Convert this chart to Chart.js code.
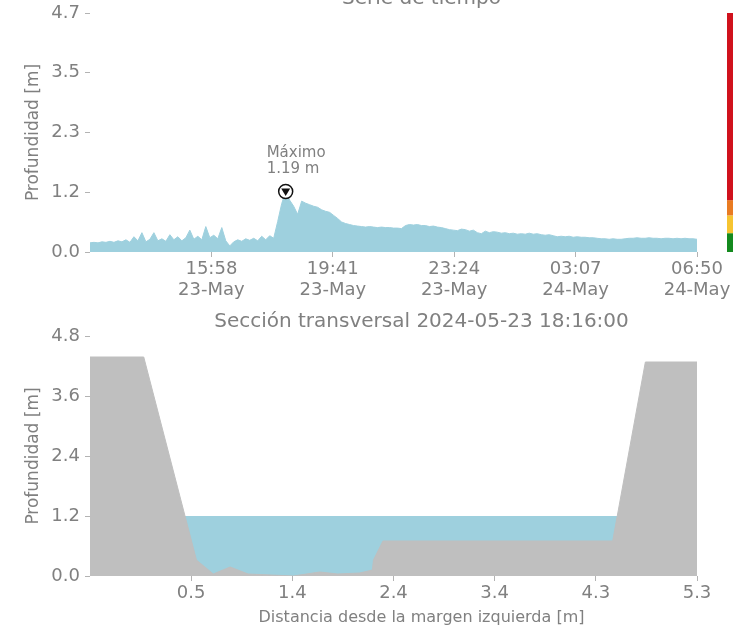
<!DOCTYPE html>
<html>
<head>
<meta charset="utf-8">
<title>Serie de tiempo / Sección transversal</title>
<script src="https://cdn.jsdelivr.net/npm/chart.js@4.4.1/dist/chart.umd.min.js"></script>
<style>
    html, body { margin: 0; padding: 0; background: #ffffff; overflow: hidden; }
    body { width: 733px; height: 628px; position: relative; }
    .panel { position: absolute; left: 0; width: 733px; }
    #top-panel { top: -30px; height: 336px; }
    #bottom-panel { top: 306px; height: 322px; }
</style>
</head>
<body>
<div class="panel" id="top-panel"><canvas id="seriesChart"></canvas></div>
<div class="panel" id="bottom-panel"><canvas id="sectionChart"></canvas></div>
<script>
// ============================================================================
// DATA: time series (depth in m, regular samples 12:15 23-May -> 06:50 24-May)
// ============================================================================
const seriesSpanMinutes = 1115;
const depthSeries = [
    0.18, 0.19, 0.18, 0.20, 0.19, 0.21, 0.19, 0.22, 0.20, 0.24,
    0.19, 0.30, 0.22, 0.38, 0.20, 0.25, 0.38, 0.22, 0.26, 0.21,
    0.34, 0.24, 0.30, 0.22, 0.28, 0.43, 0.25, 0.31, 0.24, 0.50,
    0.28, 0.33, 0.26, 0.48, 0.22, 0.12, 0.20, 0.24, 0.21, 0.26,
    0.23, 0.27, 0.22, 0.31, 0.24, 0.32, 0.27, 0.60, 0.95, 1.19,
    1.02, 0.90, 0.74, 1.00, 0.96, 0.93, 0.90, 0.88, 0.83, 0.80,
    0.78, 0.72, 0.66, 0.59, 0.56, 0.54, 0.52, 0.51, 0.50, 0.49,
    0.50, 0.49, 0.48, 0.49, 0.48, 0.48, 0.47, 0.47, 0.46, 0.52,
    0.54, 0.53, 0.54, 0.52, 0.52, 0.50, 0.51, 0.49, 0.48, 0.46,
    0.44, 0.43, 0.42, 0.45, 0.44, 0.41, 0.43, 0.38, 0.36, 0.41,
    0.38, 0.40, 0.39, 0.37, 0.38, 0.36, 0.37, 0.35, 0.36, 0.35,
    0.37, 0.35, 0.36, 0.34, 0.33, 0.34, 0.32, 0.30, 0.31, 0.30,
    0.31, 0.29, 0.30, 0.29, 0.29, 0.28, 0.28, 0.27, 0.26, 0.26,
    0.25, 0.26, 0.25, 0.25, 0.26, 0.27, 0.27, 0.28, 0.27, 0.27,
    0.28, 0.27, 0.27, 0.26, 0.27, 0.27, 0.26, 0.27, 0.26, 0.27,
    0.26, 0.26, 0.25
];
const timeTickMinutes = [223, 446, 669, 892, 1115];
const timeTickLabels = [
    ['15:58', '23-May'], ['19:41', '23-May'], ['23:24', '23-May'],
    ['03:07', '24-May'], ['06:50', '24-May']
];
const depthTicks = [0, 1.175, 2.35, 3.525, 4.7];
const depthTickLabels = ['0.0', '1.2', '2.3', '3.5', '4.7'];

// Alert levels (m) for the colour bar, green -> red
const alertLevels = [0, 0.37, 0.72, 1.02, 4.7];
const alertColors = ['#148a1e', '#f6c431', '#e97b22', '#d0111c'];

// ============================================================================
// DATA: cross section
// ============================================================================
const sectionDistance = [-0.46, 0.05, 0.55, 0.71, 0.87, 1.04, 1.47, 1.72, 1.89, 2.10, 2.22, 2.23, 2.32, 4.50, 4.81, 5.30];
const sectionBed      = [ 4.38, 4.38, 0.32, 0.04, 0.18, 0.04, 0.00, 0.08, 0.04, 0.06, 0.12, 0.32, 0.70, 0.70, 4.28, 4.28];
const waterDistance = [0.44, 4.55];
const waterLevel = 1.19;
const distanceTicks = [0.5, 1.46, 2.42, 3.38, 4.34, 5.3];
const distanceTickLabels = ['0.5', '1.4', '2.4', '3.4', '4.3', '5.3'];
const sectionDepthTicks = [0, 1.2, 2.4, 3.6, 4.8];
const sectionDepthTickLabels = ['0.0', '1.2', '2.4', '3.6', '4.8'];

// ============================================================================
// Style
// ============================================================================
const FONT = "'DejaVu Sans', sans-serif";
const textColor = '#808080';
const tickColor = '#b3b3b3';
const waterColor = '#9ed0de';
const bedColor = '#bfbfbf';

Chart.defaults.font.family = FONT;
Chart.defaults.color = textColor;

function fixedTicks(values) {
    return axis => { axis.ticks = values.map(v => ({ value: v })); };
}

function axisBase(size) {
    return {
        grid: { drawOnChartArea: false, drawTicks: true, tickLength: 5, color: tickColor },
        border: { display: false },
        ticks: { color: textColor, font: { size: size, lineHeight: 1.17 }, autoSkip: false, maxRotation: 0 }
    };
}

// Title texts drawn relative to the chart area
function panelText(title, xTitle) {
    return {
        id: 'panelText',
        afterDraw(chart) {
            const { ctx, chartArea } = chart;
            const cx = (chartArea.left + chartArea.right) / 2 + 28;
            ctx.save();
            ctx.fillStyle = textColor;
            ctx.textAlign = 'center';
            ctx.textBaseline = 'alphabetic';
            ctx.font = `20px ${FONT}`;
            ctx.fillText(title, cx, chartArea.top - 9);
            if (xTitle) {
                ctx.font = `16px ${FONT}`;
                ctx.fillText(xTitle, cx, chartArea.bottom + 46);
            }
            ctx.restore();
        }
    };
}

// Maximum marker + label
const maxMarker = {
    id: 'maxMarker',
    afterDatasetsDraw(chart) {
        const values = depthSeries;
        const idx = values.indexOf(Math.max(...values));
        const pt = chart.getDatasetMeta(0).data[idx];
        if (!pt) return;
        const { ctx } = chart;
        const x = pt.x, y = pt.y;
        ctx.save();
        ctx.beginPath();
        ctx.arc(x, y, 7, 0, Math.PI * 2);
        ctx.fillStyle = '#ffffff';
        ctx.fill();
        ctx.lineWidth = 1.5;
        ctx.strokeStyle = '#111111';
        ctx.stroke();
        ctx.beginPath();
        ctx.moveTo(x - 4.5, y - 3);
        ctx.lineTo(x + 4.5, y - 3);
        ctx.lineTo(x, y + 4.5);
        ctx.closePath();
        ctx.fillStyle = '#111111';
        ctx.fill();
        ctx.fillStyle = textColor;
        ctx.font = `15px ${FONT}`;
        ctx.textAlign = 'left';
        ctx.fillText('Máximo', x - 19, y - 34);
        ctx.fillText(values[idx].toFixed(2) + ' m', x - 19, y - 18);
        ctx.restore();
    }
};

// Alert colour bar to the right of the series plot
const alertBar = {
    id: 'alertBar',
    afterDraw(chart) {
        const { ctx, chartArea, scales } = chart;
        const x0 = chartArea.right + 30;
        ctx.save();
        for (let i = 0; i < alertColors.length; i++) {
            const yTop = scales.y.getPixelForValue(alertLevels[i + 1]);
            const yBot = scales.y.getPixelForValue(alertLevels[i]);
            ctx.fillStyle = alertColors[i];
            ctx.fillRect(x0, yTop, 10, yBot - yTop);
        }
        ctx.restore();
    }
};

// ============================================================================
// Top chart: time series
// ============================================================================
const seriesPoints = depthSeries.map((v, i) => ({ x: i * seriesSpanMinutes / (depthSeries.length - 1), y: v }));

const seriesX = axisBase(18);
Object.assign(seriesX, {
    type: 'linear', min: 0, max: seriesSpanMinutes,
    afterBuildTicks: fixedTicks(timeTickMinutes),
    afterFit: axis => { axis.height = 54; }
});
seriesX.ticks.padding = 2;
seriesX.ticks.callback = (v, i) => timeTickLabels[i];

const seriesY = axisBase(18);
Object.assign(seriesY, {
    min: 0, max: 4.7,
    afterBuildTicks: fixedTicks(depthTicks),
    afterFit: axis => { axis.width = 90; },
    title: { display: true, text: 'Profundidad [m]', color: textColor, font: { size: 17 }, padding: { top: 23, bottom: 0 } }
});
seriesY.ticks.padding = 5;
seriesY.ticks.callback = (v, i) => depthTickLabels[i];

new Chart(document.getElementById('seriesChart'), {
    type: 'line',
    data: {
        datasets: [{
            data: seriesPoints,
            fill: 'origin',
            backgroundColor: waterColor,
            borderColor: waterColor,
            borderWidth: 1,
            pointRadius: 0,
            tension: 0
        }]
    },
    options: {
        responsive: true,
        maintainAspectRatio: false,
        animation: false,
        layout: { padding: { top: 43, right: 36, left: 0, bottom: 0 } },
        plugins: { legend: { display: false }, tooltip: { enabled: false }, title: { display: false } },
        scales: { x: seriesX, y: seriesY }
    },
    plugins: [panelText('Serie de tiempo'), maxMarker, alertBar]
});

// ============================================================================
// Bottom chart: cross section
// ============================================================================
const bedPoints = sectionDistance.map((d, i) => ({ x: d, y: sectionBed[i] }));
const waterPoints = waterDistance.map(d => ({ x: d, y: waterLevel }));

const sectionX = axisBase(18);
Object.assign(sectionX, {
    type: 'linear', min: -0.46, max: 5.3,
    afterBuildTicks: fixedTicks(distanceTicks),
    afterFit: axis => { axis.height = 52; }
});
sectionX.ticks.padding = 2;
sectionX.ticks.callback = (v, i) => distanceTickLabels[i];

const sectionY = axisBase(18);
Object.assign(sectionY, {
    min: 0, max: 4.8,
    afterBuildTicks: fixedTicks(sectionDepthTicks),
    afterFit: axis => { axis.width = 90; },
    title: { display: true, text: 'Profundidad [m]', color: textColor, font: { size: 17 }, padding: { top: 23, bottom: 0 } }
});
sectionY.ticks.padding = 5;
sectionY.ticks.callback = (v, i) => sectionDepthTickLabels[i];

new Chart(document.getElementById('sectionChart'), {
    type: 'line',
    data: {
        datasets: [
            {
                label: 'Lecho',
                data: bedPoints,
                fill: 'origin',
                backgroundColor: bedColor,
                borderColor: bedColor,
                borderWidth: 1,
                pointRadius: 0,
                tension: 0,
                order: 0
            },
            {
                label: 'Agua',
                data: waterPoints,
                fill: 'origin',
                backgroundColor: waterColor,
                borderColor: waterColor,
                borderWidth: 1,
                pointRadius: 0,
                tension: 0,
                order: 1
            }
        ]
    },
    options: {
        responsive: true,
        maintainAspectRatio: false,
        animation: false,
        layout: { padding: { top: 30, right: 36, left: 0, bottom: 0 } },
        plugins: { legend: { display: false }, tooltip: { enabled: false }, title: { display: false } },
        scales: { x: sectionX, y: sectionY }
    },
    plugins: [panelText('Sección transversal 2024-05-23 18:16:00', 'Distancia desde la margen izquierda [m]')]
});
</script>
</body>
</html>
